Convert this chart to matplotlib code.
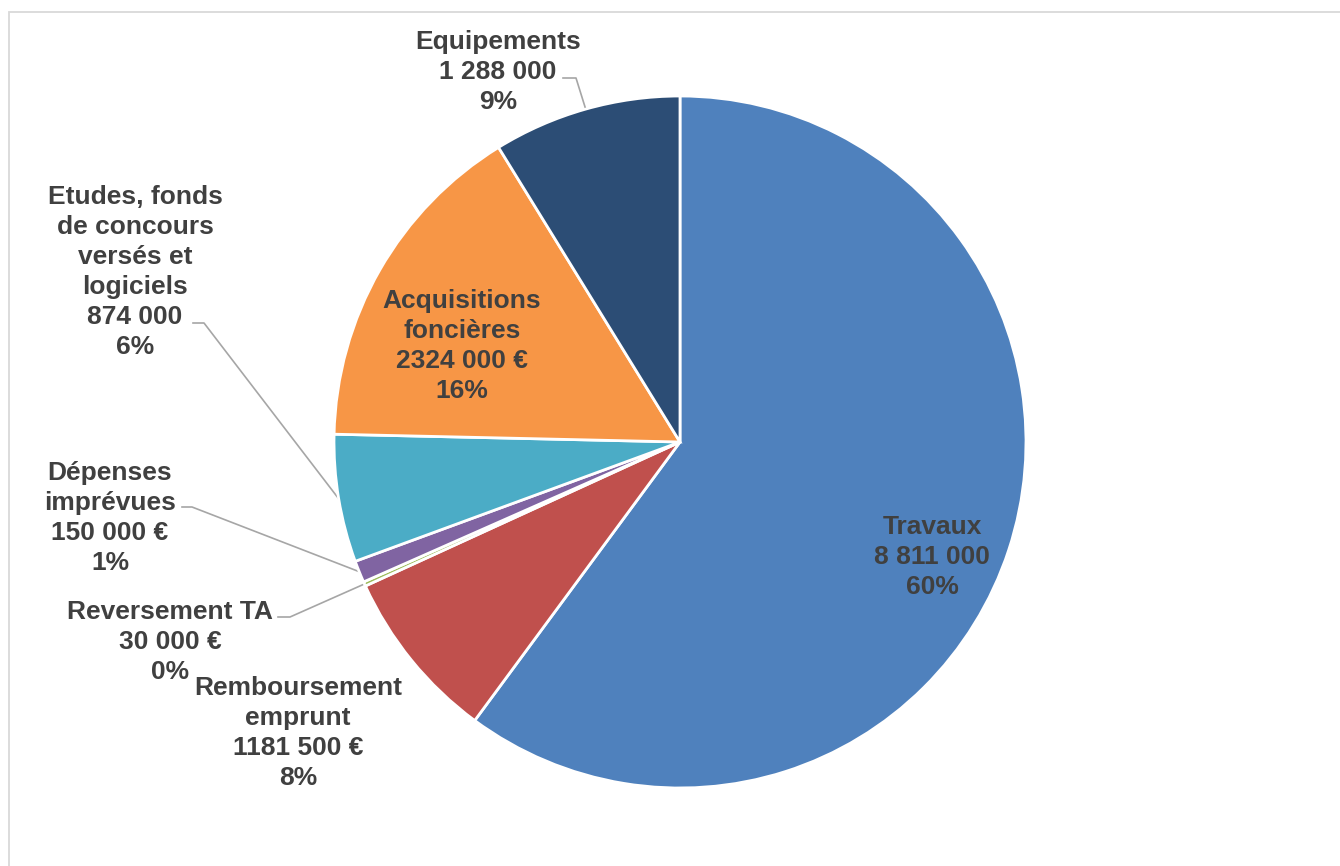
import numpy as np
import matplotlib
matplotlib.use("Agg")
import matplotlib.pyplot as plt
from matplotlib.patches import Rectangle

plt.rcParams["font.family"] = ["Liberation Sans", "DejaVu Sans"]

# budget lines, clockwise from 12 o'clock
names = [
    "Travaux",
    "Remboursement\nemprunt",
    "Reversement TA",
    "Dépenses\nimprévues",
    "Etudes, fonds\nde concours\nversés et\nlogiciels",
    "Acquisitions\nfoncières",
    "Equipements",
]
values = [8811000, 1181500, 30000, 150000, 874000, 2324000, 1288000]
value_labels = [
    "8 811 000",
    "1181 500 €",
    "30 000 €",
    "150 000 €",
    "874 000",
    "2324 000 €",
    "1 288 000",
]
colors = ["#4F81BD", "#C0504D", "#9BBB59", "#8064A2", "#4BACC6", "#F79646", "#2C4D75"]

W, H = 1340, 866
CX, CY, R = 680, 442, 346
TEXT = "#404040"
LEADER = "#A6A6A6"


def px(x, y):
    # pixel coords (origin top-left) -> axes data coords
    return x, H - y


fig = plt.figure(figsize=(W / 100, H / 100), dpi=100)
ax = fig.add_axes([0, 0, 1, 1])

# chart area frame
ax.add_patch(Rectangle(px(9, 880), 1400, 868, fill=False, edgecolor="#D9D9D9", linewidth=1.3))

wedges, _ = ax.pie(
    values,
    colors=colors,
    startangle=90,
    counterclock=False,
    center=px(CX, CY),
    radius=R,
    wedgeprops=dict(edgecolor="white", linewidth=2.0),
    frame=True,
)
ax.set_xlim(0, W)
ax.set_ylim(0, H)
ax.set_aspect("equal")
ax.axis("off")

total = sum(values)
labels = [f"{n}\n{v}\n{round(100 * val / total):d}%" for n, v, val in zip(names, value_labels, values)]

# label centres (px) and leader start/elbow for the outside labels
label_pos = [(932, 557), (298, 733), (170, 642), (110, 518), (135, 272), (462, 346), (498, 72)]
leaders = {
    2: ((278, 617), (290, 617)),
    3: ((182, 507), (192, 507)),
    4: ((193, 323), (204, 323)),
    6: ((563, 78), (576, 78)),
}

for i, (lab, (lx, ly)) in enumerate(zip(labels, label_pos)):
    ax.text(*px(lx, ly), lab, ha="center", va="center", fontsize=19,
            fontweight="bold", color=TEXT, linespacing=1.31)
    if i in leaders:
        w = wedges[i]
        mid = np.deg2rad((w.theta1 + w.theta2) / 2)
        ex, ey = CX + R * np.cos(mid), CY - R * np.sin(mid)
        (sx, sy), (bx, by) = leaders[i]
        ax.plot([sx, bx, ex], [H - sy, H - by, H - ey], color=LEADER, linewidth=1.2, zorder=0.5)

fig.savefig("out.png", dpi=100, facecolor="white")
